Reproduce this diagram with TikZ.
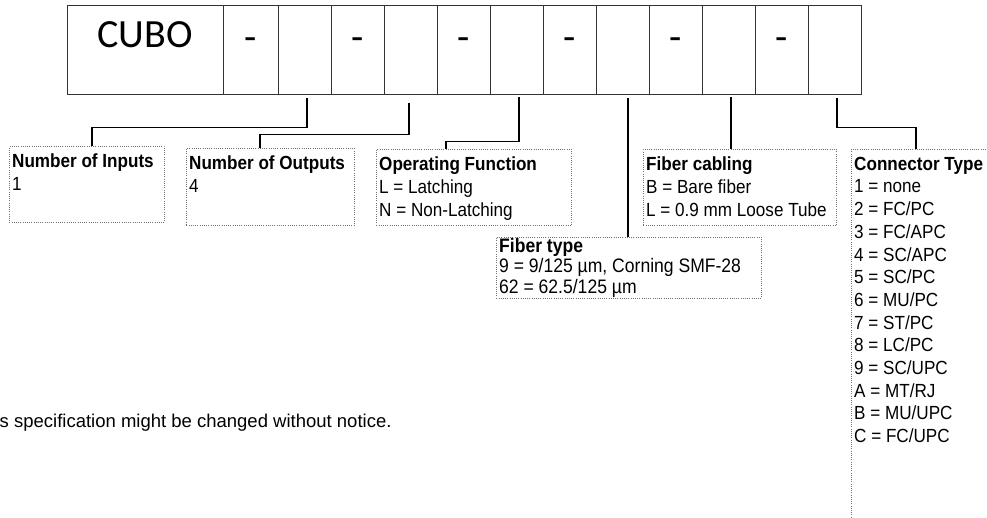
\documentclass[tikz,border=0pt]{standalone}
\usepackage{fontspec}
\setmainfont{Liberation Sans}[FakeStretch=0.9]
\newfontfamily\notefont{Liberation Sans}
\newfontfamily\cubofont{Carlito}
\tikzset{
  cell/.style={draw=black!80, line width=0.9pt, inner sep=0pt, minimum height=89pt},
  bigtxt/.style={font=\cubofont\fontsize{40}{44}\selectfont, anchor=base, inner sep=0pt},
  infobox/.style={draw=black!55, line width=0.9pt, dash pattern=on 0.9pt off 1.3pt, anchor=north west, inner sep=0pt},
  infotxt/.style={anchor=north west, inner sep=0pt, align=left, font=\fontsize{19}{23}\selectfont},
  typetxt/.style={anchor=north west, inner sep=0pt, align=left, font=\fontsize{19.5}{20.5}\selectfont},
  contxt/.style={anchor=north west, inner sep=0pt, align=left, font=\fontsize{19}{22.7}\selectfont},
  conn/.style={draw=black, line width=1.6pt}
}
\newcommand{\firstline}{\rule{0pt}{21pt}}
\newcommand{\firsttype}{\rule{0pt}{15pt}}
\begin{document}
\begin{tikzpicture}[x=1pt,y=-1pt]
\useasboundingbox (0,0) rectangle (987,517);
% code boxes
\foreach \i/\a/\b in {1/67/223, 2/223/278, 3/278/331, 4/331/384, 5/384/437, 6/437/490, 7/490/543, 8/543/596, 9/596/649, 10/649/702, 11/702/755, 12/755/808, 13/808/861}{
  \node[cell, minimum width={(\b-\a)*1pt}] (c\i) at ({(\a+\b)/2},49.5) {};
}
\node[bigtxt] (cubo) at (145,47) {CUBO};
\foreach \i in {2,4,6,8,10,12}{
  \node[bigtxt] (d\i) at (c\i.center |- 0,50) {-};
}
% info boxes
\node[infobox, minimum width=155pt, minimum height=76pt] (inbox) at (9,146) {};
\node[infobox, minimum width=168pt, minimum height=77pt] (outbox) at (186,148) {};
\node[infobox, minimum width=195pt, minimum height=76pt] (opbox) at (376,149) {};
\node[infobox, minimum width=193pt, minimum height=76pt] (cabbox) at (643,149) {};
\node[infobox, minimum width=265pt, minimum height=61pt] (typebox) at (496,237) {};
\node[infobox, minimum width=150pt, minimum height=380pt] (conbox) at (851,149) {};
% texts
\node[infotxt] (tin) at ([xshift=3pt]inbox.north west) {\firstline\textbf{Number of Inputs}\\1};
\node[infotxt] (tout) at ([xshift=3pt]outbox.north west) {\firstline\textbf{Number of Outputs}\\4};
\node[infotxt] (top) at ([xshift=3pt]opbox.north west) {\firstline\textbf{Operating Function}\\L = Latching\\N = Non-Latching};
\node[infotxt] (tcab) at ([xshift=3pt]cabbox.north west) {\firstline\textbf{Fiber cabling}\\B = Bare fiber\\L = 0.9 mm Loose Tube};
\node[typetxt] (ttype) at ([xshift=3pt]typebox.north west) {\firsttype\textbf{Fiber type}\\9 = 9/125 µm, Corning SMF-28\\62 = 62.5/125 µm};
\node[contxt] (tcon) at ([xshift=3pt]conbox.north west) {\firstline\textbf{Connector Type}\\1 = none\\2 = FC/PC\\3 = FC/APC\\4 = SC/APC\\5 = SC/PC\\6 = MU/PC\\7 = ST/PC\\8 = LC/PC\\9 = SC/UPC\\A = MT/RJ\\B = MU/UPC\\C = FC/UPC};
\node[anchor=base west, inner sep=0pt, font=\notefont\fontsize{18.5}{20}\selectfont] (note) at (-0.5,427) {s specification might be changed without notice.};
% connectors
\draw[conn] ([xshift=2.5pt,yshift=-4pt]c3.south) -- ++(0,29) -| ([xshift=83pt]inbox.north west);
\draw[conn] ([xshift=-1.5pt,yshift=-9pt]c5.south) -- ++(0,31) -| ([xshift=74pt]outbox.north west);
\draw[conn] ([xshift=2.5pt,yshift=-3pt]c7.south) -- ++(0,44) -| ([xshift=70pt]opbox.north west);
\draw[conn] ([xshift=5.5pt,yshift=-4pt]c9.south) -- ([xshift=132pt]typebox.north west);
\draw[conn] ([xshift=2.5pt,yshift=-3pt]c11.south) -- ([xshift=88pt]cabbox.north west);
\draw[conn] ([xshift=2.5pt,yshift=-4pt]c13.south) -- ++(0,29) -| ([xshift=65pt]conbox.north west);
\end{tikzpicture}
\end{document}
